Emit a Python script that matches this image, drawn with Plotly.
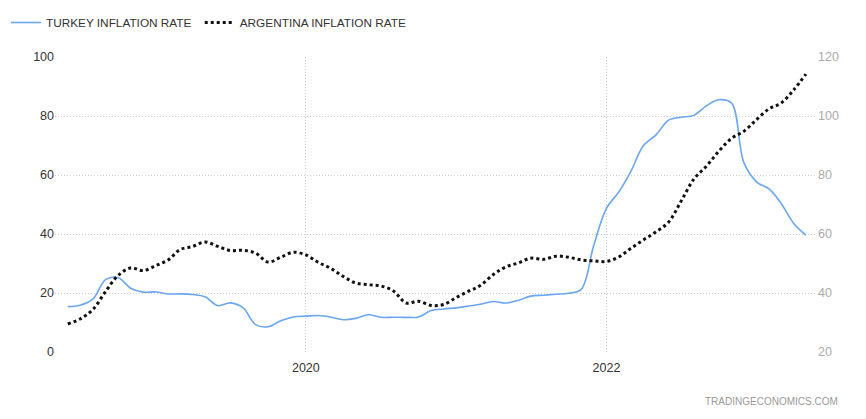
import plotly.graph_objects as go
import pandas as pd

dates = pd.date_range("2018-06-01", "2023-05-01", freq="MS")

turkey = [15.39, 15.85, 17.90, 24.52, 25.24, 21.62, 20.30,
          20.35, 19.67, 19.71, 19.50, 18.71, 15.72, 16.65, 15.01, 9.26, 8.55, 10.56, 11.84,
          12.15, 12.37, 11.86, 10.94, 11.39, 12.62, 11.76, 11.77, 11.75, 11.89, 14.03, 14.60,
          14.97, 15.61, 16.19, 17.14, 16.59, 17.53, 18.95, 19.25, 19.58, 19.89, 21.31, 36.08,
          48.69, 54.44, 61.14, 69.97, 73.50, 78.62, 79.60, 80.21, 83.45, 85.51, 84.39, 64.27,
          57.68, 55.18, 50.51, 43.68, 39.59]

argentina = [29.5, 31.2, 34.4, 40.5, 45.9, 48.5, 47.6,
             49.3, 51.3, 54.7, 55.8, 57.3, 55.8, 54.4, 54.5, 53.5, 50.5, 52.1, 53.8,
             52.9, 50.3, 48.4, 45.6, 43.4, 42.8, 42.4, 40.7, 36.6, 37.2, 35.8, 36.1,
             38.5, 40.7, 42.6, 46.3, 48.8, 50.2, 51.8, 51.4, 52.5, 52.1, 51.2, 50.9,
             50.7, 52.3, 55.1, 58.0, 60.7, 64.0, 71.0, 78.5, 83.0, 88.0, 92.4, 94.8,
             98.8, 102.5, 104.3, 108.8, 114.2]

left_ticks = [0, 20, 40, 60, 80, 100]
right_ticks = [20, 40, 60, 80, 100, 120]
x_ticks = ["2020-01-01", "2022-01-01"]
x_labels = ["2020", "2022"]

FONT = "Liberation Sans, Arial, sans-serif"

fig = go.Figure()
fig.add_trace(go.Scatter(
    x=dates, y=turkey, name="TURKEY INFLATION RATE\u00a0", mode="lines",
    line=dict(color="#6aa6f2", width=1.6, shape="spline", smoothing=1.0),
    yaxis="y"))
fig.add_trace(go.Scatter(
    x=dates, y=argentina, name="ARGENTINA INFLATION RATE", mode="lines",
    line=dict(color="#111111", width=3, dash="dot", shape="spline", smoothing=1.0),
    yaxis="y2"))

grid = "#cfcfcf"
fig.update_layout(
    width=858, height=411,
    margin=dict(l=47, r=49, t=49, b=67, autoexpand=False),
    paper_bgcolor="white", plot_bgcolor="white",
    font=dict(family=FONT, size=12, color="#333333"),
    showlegend=True,
    legend=dict(orientation="h", x=-0.0644, xref="paper", y=1.0, yref="container",
                xanchor="left", yanchor="top",
                font=dict(family=FONT, size=11.8, color="#333333"),
                itemwidth=30, bgcolor="rgba(0,0,0,0)"),
    xaxis=dict(range=["2018-05-01", "2023-05-28"], tickvals=x_ticks, ticktext=x_labels,
               showgrid=True, gridcolor=grid, griddash="1px,2px", gridwidth=1,
               showline=False, zeroline=False, ticks="", ticklabelstandoff=6,
               tickfont=dict(size=12.5, color="#333333")),
    yaxis=dict(range=[0, 100], tickvals=left_ticks, showgrid=True, gridcolor=grid,
               griddash="1px,2px", zeroline=False, showline=False, ticks="",
               tickfont=dict(size=12.5, color="#333333")),
    yaxis2=dict(range=[20, 120], tickvals=right_ticks, overlaying="y", side="right",
                showgrid=False, zeroline=False, showline=False, ticks="",
                tickfont=dict(size=12.5, color="#aaaaaa")),
    annotations=[dict(text="TRADINGECONOMICS.COM", xref="paper", yref="paper",
                      x=1.030, y=-0.169, xanchor="right", yanchor="middle",
                      showarrow=False, font=dict(family=FONT, size=10, color="#999999"))],
)

fig.write_html("out.html")
